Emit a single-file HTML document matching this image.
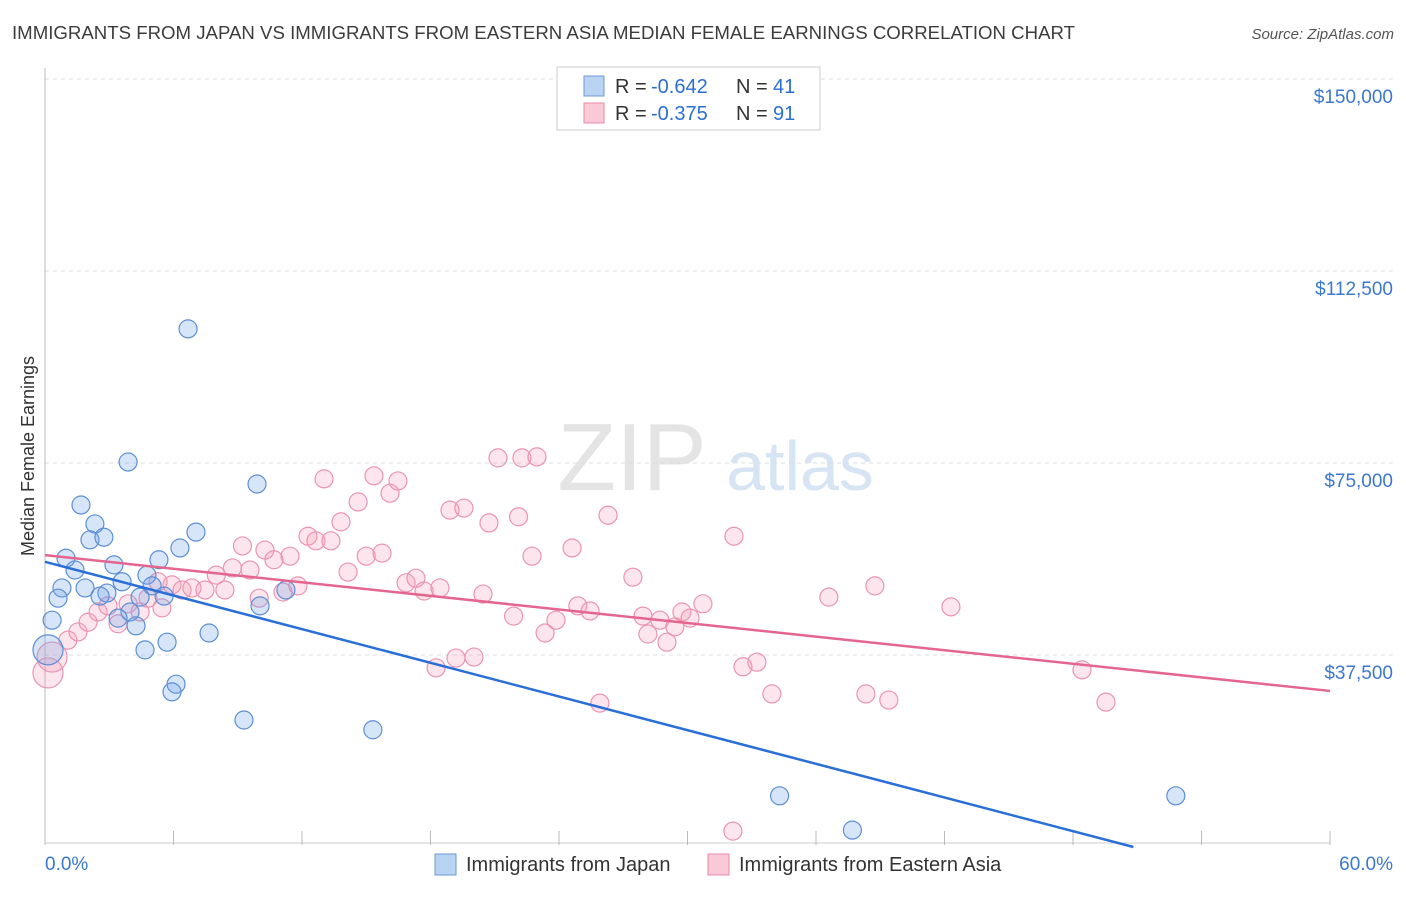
<!DOCTYPE html>
<html><head><meta charset="utf-8"><style>
body{margin:0;background:#fff;font-family:"Liberation Sans",sans-serif;}
svg text{font-family:"Liberation Sans",sans-serif;}
</style></head><body>
<svg id="chart" width="1406" height="892" xmlns="http://www.w3.org/2000/svg">
<text x="12" y="39" font-size="18" fill="#3c3c3c" textLength="1063" lengthAdjust="spacingAndGlyphs">IMMIGRANTS FROM JAPAN VS IMMIGRANTS FROM EASTERN ASIA MEDIAN FEMALE EARNINGS CORRELATION CHART</text>
<text x="1394" y="39" font-size="15" fill="#555" text-anchor="end" font-style="italic">Source: ZipAtlas.com</text>
<text transform="translate(34,456) rotate(-90)" font-size="18" fill="#333" text-anchor="middle">Median Female Earnings</text>
<g>
<text x="632" y="490" font-size="96" fill="#e4e4e4" text-anchor="middle" font-family="Liberation Serif">ZIP</text>
<text x="800" y="490" font-size="70" fill="#d6e4f3" text-anchor="middle">atlas</text>
</g>
<g id="grid"></g><g id="axes"></g><g id="marks"></g>
<g>
<rect x="557" y="67" width="263" height="63" fill="#fff" stroke="#ccc"/>
<rect x="584" y="76" width="20" height="20" fill="#b9d3f3" stroke="#6e9ad6"/>
<text x="615" y="93" font-size="20" fill="#333">R = </text><text x="651" y="93" font-size="20" fill="#2b6fd6">-0.642</text>
<text x="736" y="93" font-size="20" fill="#333">N = </text><text x="773" y="93" font-size="20" fill="#2b6fd6">41</text>
<rect x="584" y="103" width="20" height="20" fill="#f9c9d8" stroke="#e88aa8"/>
<text x="615" y="120" font-size="20" fill="#333">R = </text><text x="651" y="120" font-size="20" fill="#2b6fd6">-0.375</text>
<text x="736" y="120" font-size="20" fill="#333">N = </text><text x="773" y="120" font-size="20" fill="#2b6fd6">91</text>
</g>
<g>
<rect x="435" y="854" width="21" height="21" fill="#b9d3f3" stroke="#6e9ad6"/>
<text x="466" y="871" font-size="20" fill="#333">Immigrants from Japan</text>
<rect x="708" y="854" width="21" height="21" fill="#f9c9d8" stroke="#e88aa8"/>
<text x="739" y="871" font-size="20" fill="#333">Immigrants from Eastern Asia</text>
</g>
</svg>
<script>
const yTicks=[150000,112500,75000,37500];
const yTickLabels=["$150,000","$112,500","$75,000","$37,500"];
const xTicks=[0,6,12,18,24,30,36,42,48,54,60];
const japanX=[6.68,3.88,9.90,1.68,2.33,2.10,2.75,7.05,0.98,6.30,5.32,3.22,1.40,4.76,3.60,0.79,1.87,5.00,2.89,2.57,0.61,4.44,5.56,11.25,10.04,3.97,3.41,0.33,4.25,7.66,5.70,4.67,0.14,6.12,5.93,9.29,15.31,34.3,52.8,37.7];
const japanY=[101.2,75.2,70.9,66.8,63.1,60.0,60.5,61.5,56.4,58.4,56.1,55.1,54.1,53.1,51.8,50.6,50.6,51.0,49.6,49.0,48.6,48.8,49.0,50.2,47.1,45.9,44.7,44.3,43.2,41.8,40.0,38.5,38.5,31.8,30.3,24.8,22.9,10.0,10.0,3.3];
const japanBig=[32];
const asiaX=[0.14,0.33,1.07,1.54,2.01,2.48,2.94,3.41,3.88,4.44,4.81,5.46,5.28,5.93,6.40,6.86,7.47,8.40,8.00,8.75,9.22,9.57,10.27,10.69,11.44,11.81,11.11,10.0,12.28,12.65,13.35,13.82,13.03,14.15,14.62,15.0,15.36,15.74,16.11,16.48,16.86,17.32,17.70,18.44,18.91,19.56,18.26,19.19,20.03,20.45,20.73,21.15,21.88,22.11,22.27,22.97,22.74,23.35,23.86,24.61,24.88,25.45,25.91,26.29,27.45,27.92,28.15,28.71,29.04,29.41,29.74,30.12,30.72,32.17,32.59,33.24,33.94,36.60,38.33,38.75,39.40,32.12,42.30,48.42,49.54];
const asiaY=[34.0,37.1,40.4,42.0,43.9,45.9,47.1,43.6,47.5,45.9,48.6,46.7,51.8,51.2,50.2,50.6,50.2,50.2,53.1,54.5,58.8,54.1,58.0,56.1,56.8,51.0,49.8,48.6,60.7,59.8,59.8,63.5,71.9,53.7,67.4,56.8,72.5,57.4,69.1,71.5,51.6,52.5,50.0,50.6,65.8,66.2,35.0,36.9,37.1,49.4,63.3,76.0,45.1,64.5,76.0,76.2,56.8,41.8,44.3,58.4,47.1,46.1,28.1,64.8,52.7,45.1,41.6,44.3,40.0,43.0,45.9,44.7,47.5,60.7,35.2,36.1,29.9,48.8,29.9,51.0,28.7,3.1,46.9,34.6,28.3];
const asiaBig=[0,1];
const trendJapan=[55.7,-1.096];
const trendAsia=[57.0,-0.442];
const xs=p=>45+p*(1285/60);
const ys=k=>847-k*1000*192/37500;
const NS="http://www.w3.org/2000/svg";
function mk(parent,tag,attrs){const e=document.createElementNS(NS,tag);for(const k in attrs)e.setAttribute(k,attrs[k]);document.getElementById(parent).appendChild(e);return e;}
mk('grid','line',{x1:45,x2:1393,y1:79,y2:79,stroke:'#ddd','stroke-dasharray':'4 4'});
yTicks.forEach((v,i)=>{
 const y=ys(v/1000);
 const l=mk('grid','line',{x1:45,x2:1393,y1:y,y2:y,stroke:'#ddd','stroke-dasharray':'4 4'});
 
 
 const t=mk('grid','text',{x:1393,y:y+24,'font-size':19,fill:'#3b78d0','text-anchor':'end'});
 t.textContent=yTickLabels[i];
 
 
});
mk('axes','line',{x1:45,x2:45,y1:68,y2:845,stroke:'#bbb'});
mk('axes','line',{x1:45,x2:1330,y1:843,y2:843,stroke:'#ccc'});
xTicks.forEach(p=>{const x=xs(p);const l=mk('axes','line',{x1:x,x2:x,y1:831,y2:845,stroke:'#bbb'});
 
 });
let t0=mk('axes','text',{x:45,y:870,'font-size':19,fill:'#3b78d0'});t0.textContent='0.0%';


let t1=mk('axes','text',{x:1393,y:870,'font-size':19,fill:'#3b78d0','text-anchor':'end'});t1.textContent='60.0%';


asiaX.forEach((p,i)=>{const c=mk('marks','circle',{cx:xs(p),cy:ys(asiaY[i]),r:asiaBig.includes(i)?15:9,fill:'rgba(244,160,188,0.28)',stroke:'#eb94b1','stroke-width':1.2});
 
 });
japanX.forEach((p,i)=>{const c=mk('marks','circle',{cx:xs(p),cy:ys(japanY[i]),r:japanBig.includes(i)?15:9,fill:'rgba(110,160,230,0.28)',stroke:'#5b8fd6','stroke-width':1.2});
 
 });
const xe=-trendJapan[0]/trendJapan[1];
const lj=mk('marks','line',{x1:xs(0),y1:ys(trendJapan[0]),x2:xs(Math.min(60,xe)),y2:ys(trendJapan[0]+trendJapan[1]*Math.min(60,xe)),stroke:'#2a6fd8','stroke-width':2.5});


const la=mk('marks','line',{x1:xs(0),y1:ys(trendAsia[0]),x2:xs(60),y2:ys(trendAsia[0]+trendAsia[1]*60),stroke:'#e4668f','stroke-width':2.5});


</script>
</body></html>
